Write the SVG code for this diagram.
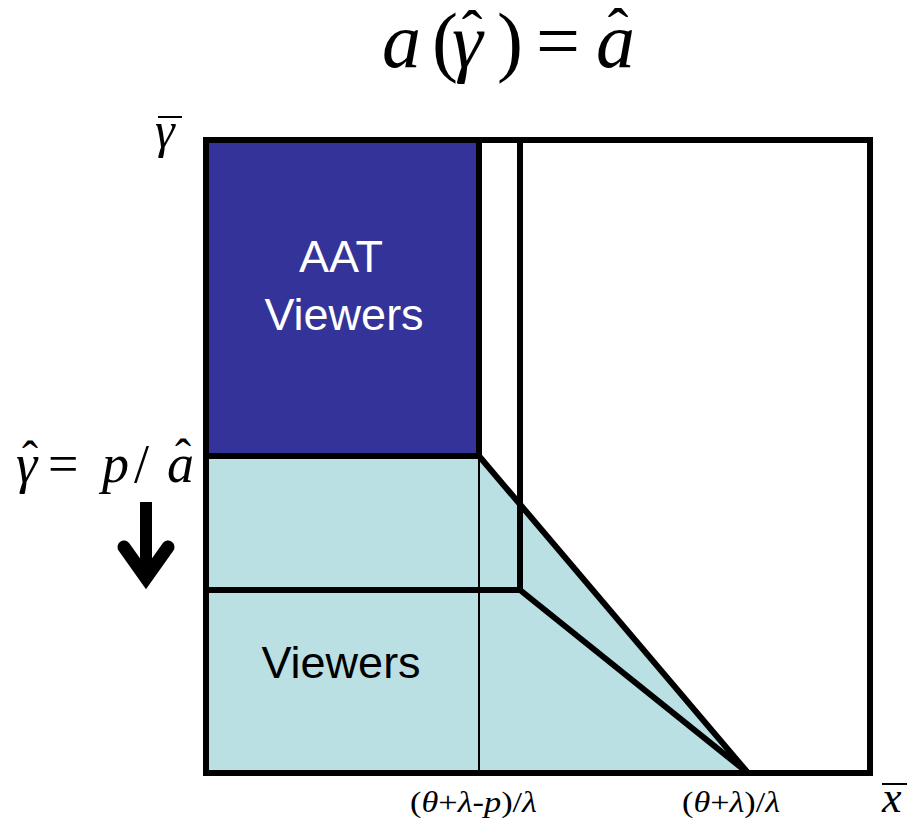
<svg xmlns="http://www.w3.org/2000/svg" width="917" height="821" viewBox="0 0 917 821">
<style>
.m{font-family:"Liberation Serif","Times New Roman",serif;fill:#000}
.i{font-style:italic}
.s{font-family:"Liberation Sans",Arial,sans-serif;font-size:45px;text-anchor:middle}
.thick{fill:none;stroke:#000;stroke-width:6;stroke-linejoin:miter}
</style>
<rect width="917" height="821" fill="#fff"/>
<g id="title">
<text class="m" font-size="78" y="67"><tspan x="382" class="i">a</tspan><tspan x="432">(</tspan><tspan x="452" class="i">γ</tspan><tspan x="497">)</tspan><tspan x="536">=</tspan><tspan x="596" class="i">a</tspan></text>
<text class="m" font-size="62" x="472" y="53" text-anchor="middle">ˆ</text>
<text class="m" font-size="62" x="618" y="51" text-anchor="middle">ˆ</text>
</g>
<g id="region-aat">
<rect x="206" y="140" width="273" height="316" fill="#333399"/>
<text class="s" x="341" y="272" fill="#fff">AAT</text>
<text class="s" x="344" y="330" fill="#fff">Viewers</text>
</g>
<g id="region-viewers">
<polygon points="206,456 479,456 748,773 206,773" fill="#BBE0E3"/>
<text class="s" x="341" y="678" fill="#000">Viewers</text>
</g>
<g id="connectors">
<rect x="206" y="140" width="664" height="633" class="thick"/>
<line x1="479" y1="140" x2="479" y2="456" class="thick"/>
<line x1="479" y1="456" x2="479" y2="773" stroke="#000" stroke-width="2"/>
<line x1="520" y1="140" x2="520" y2="590" class="thick"/>
<line x1="206" y1="456" x2="479" y2="456" class="thick"/>
<line x1="206" y1="590" x2="520" y2="590" class="thick"/>
<polyline points="479,456 748,773" class="thick"/>
<polyline points="520,590 748,773" class="thick"/>
</g>
<g id="y-labels">
<text class="m i" font-size="50" x="155" y="147">γ</text>
<line x1="158" y1="117" x2="182" y2="117" stroke="#000" stroke-width="2"/>
<text class="m" font-size="54" y="482"><tspan x="16" class="i">γ</tspan><tspan x="48">=</tspan><tspan x="102" class="i">p</tspan><tspan x="134">/</tspan><tspan x="167" class="i">a</tspan></text>
<text class="m" font-size="48" x="30" y="475" text-anchor="middle">ˆ</text>
<text class="m" font-size="48" x="183" y="473" text-anchor="middle">ˆ</text>
</g>
<g id="arrow">
<path d="M146 502 V575" stroke="#000" stroke-width="12" fill="none"/>
<path d="M124 547 L146 578 L168 547" stroke="#000" stroke-width="13" fill="none" stroke-linejoin="miter" stroke-linecap="round"/>
</g>
<g id="x-labels">
<text class="m" font-size="30" x="410" y="812" textLength="127" lengthAdjust="spacingAndGlyphs">(<tspan class="i">θ</tspan>+<tspan class="i">λ</tspan>-<tspan class="i">p</tspan>)/<tspan class="i">λ</tspan></text>
<text class="m" font-size="30" x="682" y="812" textLength="98" lengthAdjust="spacingAndGlyphs">(<tspan class="i">θ</tspan>+<tspan class="i">λ</tspan>)/<tspan class="i">λ</tspan></text>
<text class="m i" font-size="44" x="882" y="812">x</text>
<line x1="882" y1="784" x2="907" y2="784" stroke="#000" stroke-width="2"/>
</g>
</svg>
